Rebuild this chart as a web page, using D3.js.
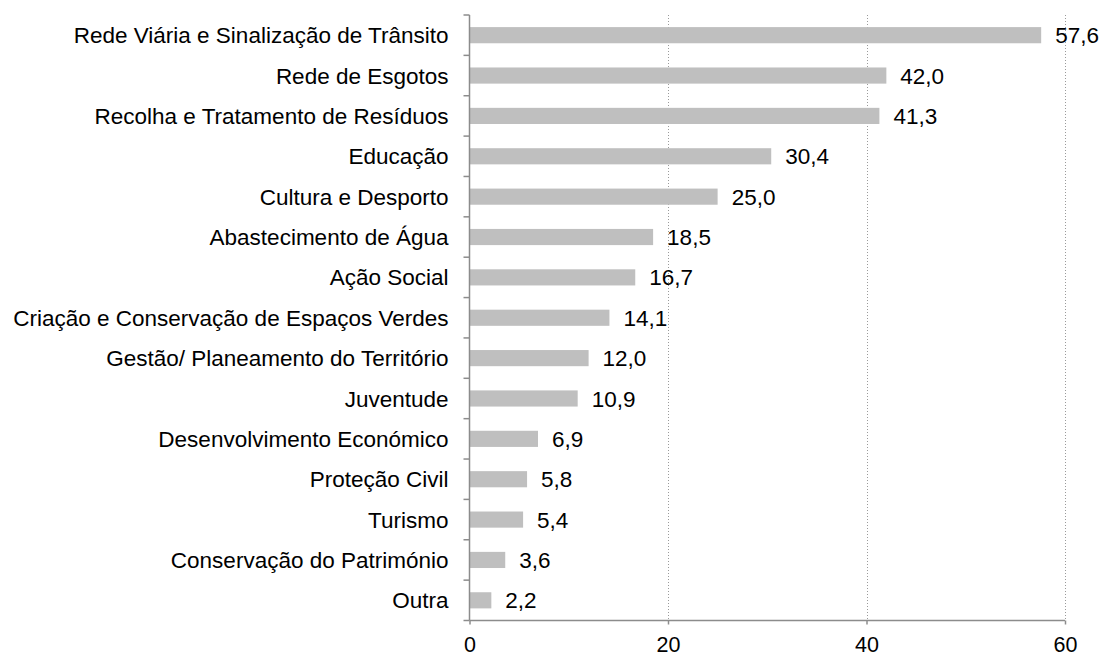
<!DOCTYPE html>
<html>
<head>
<meta charset="utf-8">
<script src="https://cdn.jsdelivr.net/npm/d3@7"></script>
<style>
  body { margin: 0; background: #fff; }
  text { font-family: "Liberation Sans", Arial, sans-serif; fill: #000; }
</style>
</head>
<body>
<script>
// categories, top to bottom
var categories = [
  'Rede Viária e Sinalização de Trânsito',
  'Rede de Esgotos',
  'Recolha e Tratamento de Resíduos',
  'Educação',
  'Cultura e Desporto',
  'Abastecimento de Água',
  'Ação Social',
  'Criação e Conservação de Espaços Verdes',
  'Gestão/ Planeamento do Território',
  'Juventude',
  'Desenvolvimento Económico',
  'Proteção Civil',
  'Turismo',
  'Conservação do Património',
  'Outra'
];
var values = [57.6, 42.0, 41.3, 30.4, 25.0, 18.5, 16.7, 14.1, 12.0, 10.9, 6.9, 5.8, 5.4, 3.6, 2.2];
var xTicks = [0, 20, 40, 60];

var width = 1100, height = 656;
var margin = {top: 15, right: 35, bottom: 35.5, left: 469.5};
var fontSize = '22.5px';

var svg = d3.select('body').append('svg')
            .attr('width', width)
            .attr('height', height);

var x = d3.scaleLinear().domain([0, 60]).range([margin.left, width - margin.right]);
var y = d3.scaleBand().domain(categories)
          .range([margin.top, height - margin.bottom])
          .paddingInner(0.6).paddingOuter(0.3);

// dotted gridlines
svg.selectAll('line.grid').data(xTicks.filter(function(d){ return d > 0; })).enter()
    .append('line')
    .attr('class', 'grid')
    .attr('x1', function(d){ return Math.round(x(d)) + 0.5; })
    .attr('x2', function(d){ return Math.round(x(d)) + 0.5; })
    .attr('y1', margin.top)
    .attr('y2', height - margin.bottom)
    .attr('stroke', '#9a9a9a')
    .attr('stroke-width', 1)
    .attr('stroke-dasharray', '1,2');

// bars
svg.selectAll('rect.bar').data(values).enter()
    .append('rect')
    .attr('class', 'bar')
    .attr('x', x(0))
    .attr('y', function(d, i){ return y(categories[i]); })
    .attr('width', function(d){ return x(d) - x(0); })
    .attr('height', y.bandwidth())
    .attr('fill', '#bfbfbf');

// value labels
svg.selectAll('text.val').data(values).enter()
    .append('text')
    .attr('class', 'val')
    .attr('x', function(d){ return x(d) + 14; })
    .attr('y', function(d, i){ return y(categories[i]) + y.bandwidth() / 2; })
    .attr('dy', '0.36em')
    .style('font-size', fontSize)
    .text(function(d){ return d.toFixed(1).replace('.', ','); });

// x axis
var xAxis = svg.append('g')
    .attr('transform', 'translate(0,' + (height - margin.bottom) + ')')
    .call(d3.axisBottom(x).tickValues(xTicks).tickSize(4).tickFormat(d3.format('d')));
xAxis.selectAll('path, line').attr('stroke', '#8c8c8c').attr('stroke-width', 1.5);
xAxis.select('.domain').attr('d', 'M' + x(0) + ',0H' + x(60));
xAxis.selectAll('text')
    .attr('y', 31).attr('dy', 0)
    .style('font-size', '21.5px')
    .style('font-family', '"Liberation Sans", Arial, sans-serif')
    .attr('fill', '#000');

// y axis with ticks between categories
var yAxis = svg.append('g').attr('transform', 'translate(' + x(0) + ',0)');
yAxis.append('line')
    .attr('x1', 0).attr('x2', 0)
    .attr('y1', margin.top).attr('y2', height - margin.bottom)
    .attr('stroke', '#8c8c8c').attr('stroke-width', 1.5);
var bounds = d3.range(categories.length + 1).map(function(i){ return margin.top + i * (height - margin.top - margin.bottom) / categories.length; });
yAxis.selectAll('line.tk').data(bounds).enter()
    .append('line')
    .attr('class', 'tk')
    .attr('x1', -6).attr('x2', 0)
    .attr('y1', function(d){ return d; }).attr('y2', function(d){ return d; })
    .attr('stroke', '#8c8c8c').attr('stroke-width', 1.5);
yAxis.selectAll('text.cat').data(categories).enter()
    .append('text')
    .attr('class', 'cat')
    .attr('x', -21)
    .attr('y', function(d){ return y(d) + y.bandwidth() / 2; })
    .attr('dy', '0.36em')
    .attr('text-anchor', 'end')
    .style('font-size', fontSize)
    .text(function(d){ return d; });
</script>
</body>
</html>
